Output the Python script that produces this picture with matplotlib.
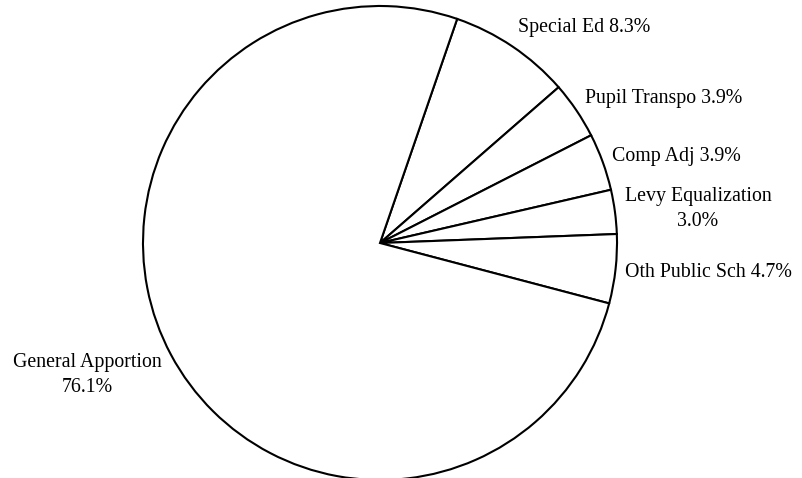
import matplotlib
matplotlib.use("Agg")
import matplotlib.pyplot as plt

labels = ["Special Ed", "Pupil Transpo", "Comp Adj", "Levy Equalization",
          "Oth Public Sch", "General Apportion"]
values = [8.3, 3.9, 3.9, 3.0, 4.7, 76.1]
label_lines = [["Special Ed 8.3%"], ["Pupil Transpo 3.9%"], ["Comp Adj 3.9%"],
               ["Levy Equalization", "3.0%"], ["Oth Public Sch 4.7%"],
               ["General Apportion", "76.1%"]]

W, H = 802, 478
fig = plt.figure(figsize=(W / 100, H / 100), dpi=100)
cx, cy, r = 380, 243, 237
ax = fig.add_axes([(cx - r) / W, (H - cy - r) / H, 2 * r / W, 2 * r / H])
wedges, _ = ax.pie(values, startangle=71.0, counterclock=False,
                   colors=["white"] * len(values),
                   wedgeprops=dict(edgecolor="black", linewidth=1.5))
for w in wedges:
    w.set_clip_on(False)
ax.set_xlim(-1, 1)
ax.set_ylim(-1, 1)
ax.axis("off")

# label anchor positions in pixels: (x, first baseline y, ha)
pos = [(518, 32, "left"), (585, 103, "left"), (612, 161, "left"),
       (698, 201, "center"), (625, 277, "left"), (87.5, 367, "center")]
line_gap = 25
font = dict(family="Liberation Serif", size=14.3)
for lines, (x, y, ha) in zip(label_lines, pos):
    for i, t in enumerate(lines):
        fig.text(x / W, 1 - (y + i * line_gap) / H, t, ha=ha, va="baseline",
                 **font)

fig.savefig("out.png", dpi=100, facecolor="white")
